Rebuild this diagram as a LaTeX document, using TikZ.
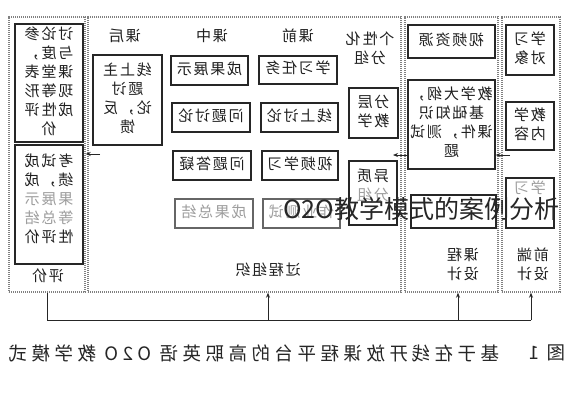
\documentclass[tikz,border=0pt]{standalone}
\usepackage{fontspec}
\setmainfont{Noto Sans CJK SC}
\newfontfamily\boxfont[LetterSpace=12]{Noto Sans CJK SC}
\newfontfamily\capfont[LetterSpace=24]{Noto Sans CJK SC}
\newfontfamily\wmfont{Noto Sans CJK SC}
\usetikzlibrary{arrows.meta}
\newcommand\mir[1]{\reflectbox{\begin{tabular}{@{}c@{}}#1\end{tabular}}}
\newcommand\gr[1]{\textcolor{black!38}{#1}}
\begin{document}
\begin{tikzpicture}[x=1pt,y=-1pt,
  panel/.style={draw=black!50, line width=1.4pt, dash pattern=on 1.2pt off 0.8pt, inner sep=0pt},
  bx/.style={draw=black!85, line width=1.3pt, inner sep=0pt, text=black!88,
    font=\boxfont\fontsize{15}{19}\selectfont},
  gbx/.style={bx, draw=black!60, text=black!38},
  lbl/.style={inner sep=0pt, text=black!88, font=\boxfont\fontsize{15}{19}\selectfont},
  conn/.style={draw=black!85, line width=1pt},
  arr/.style={conn, -{Stealth[length=5pt,width=4pt]}}]
\useasboundingbox[fill=white] (0,0) rectangle (568,400);
% panels
\node[panel, minimum width=76, minimum height=275] (pe) at (47,154.5) {};
\node[panel, minimum width=313, minimum height=275] (pp) at (244.5,154.5) {};
\node[panel, minimum width=93, minimum height=275] (pc) at (451.5,154.5) {};
\node[panel, minimum width=58, minimum height=275] (pf) at (531,154.5) {};
% evaluation
\node[bx, minimum width=68, minimum height=118] (e1) at (49,83)
  {\mir{讨论参\\与度，\\课堂表\\现等形\\成性评\\价}};
\node[bx, minimum width=68, minimum height=119] (e2) at (49,204.5) {};
\node[lbl] (e2t) at (49,201) {\mir{考试成\\绩，成\\\gr{果展示}\\\gr{等总结}\\性评价}};
\node[lbl] (pjl) at (48,278) {\mir{评价}};
% process headers
\node[lbl] (hkh) at (125,38) {\mir{课后}};
\node[lbl] (hkz) at (212,38) {\mir{课中}};
\node[lbl] (hkq) at (298,38) {\mir{课前}};
\node[lbl] (hgx) at (370,50) {\mir{个性化\\分组}};
% process boxes
\node[bx, minimum width=69, minimum height=90] (k1) at (127.5,100) {\mir{线上主\\题讨\\论，反\\馈}};
\node[bx, minimum width=77, minimum height=29] (c1) at (209.5,70.5) {\mir{成果展示}};
\node[bx, minimum width=78, minimum height=29] (c2) at (211,117.5) {\mir{问题讨论}};
\node[bx, minimum width=78, minimum height=29] (c3) at (212,165.5) {\mir{问题答疑}};
\node[gbx, minimum width=78, minimum height=29] (c4) at (214,213.5) {\mir{成果总结}};
\node[bx, minimum width=78, minimum height=28] (q1) at (298,70) {\mir{学习任务}};
\node[bx, minimum width=77, minimum height=29] (q2) at (299.5,117.5) {\mir{线上讨论}};
\node[bx, minimum width=76, minimum height=29] (q3) at (300,165.5) {\mir{视频学习}};
\node[gbx, minimum width=77, minimum height=29] (q4) at (301.5,213.5) {\mir{作业测试}};
\node[bx, minimum width=49, minimum height=50] (g1) at (373.5,113) {\mir{分层\\教学}};
\node[bx, minimum width=48, minimum height=64] (g2) at (373,193) {};
\node[lbl] (g2t) at (373,187) {\mir{异质\\\gr{分组}}};
\node[lbl] (gcl) at (268,272) {\mir{过程组织}};
% course design
\node[bx, minimum width=87, minimum height=33] (s1) at (451.5,41.5) {\mir{视频资源}};
\node[bx, minimum width=87, minimum height=89] (s2) at (451.5,124.5)
  {\mir{教学大纲，\\基础知识\\课件，测试\\题}};
\node[bx, minimum width=85, minimum height=33] (s3) at (453.5,211.5) {};
\node[lbl] (kcl) at (463,266) {\mir{课程\\设计}};
% front-end design
\node[bx, minimum width=48, minimum height=50] (f1) at (530,50) {\mir{学习\\对象}};
\node[bx, minimum width=48, minimum height=48] (f2) at (530,126) {\mir{教学\\内容}};
\node[bx, minimum width=48, minimum height=50] (f3) at (530,203) {};
\node[lbl] (f3t) at (530,190) {\mir{\gr{学习}}};
\node[lbl] (qdl) at (533,266) {\mir{前端\\设计}};
% small arrows between panels
\coordinate (a1e) at (393,155);
\draw[arr] (s2.west |- a1e) -- (a1e);
\coordinate (a2s) at (510,155);
\draw[arr] (a2s) -- (s2.east |- a2s);
\coordinate (a3s) at (100,154);
\draw[arr] (a3s) -- (pe.east |- a3s);
% bottom feedback line
\coordinate (bl) at (47,320);
\coordinate (br) at (531,320);
\coordinate (bm1) at (268,320);
\coordinate (bm2) at (458,320);
\draw[conn] (pe.south) -- (bl) -- (br);
\draw[arr] (bm1) -- (bm1 |- pp.south);
\draw[arr] (bm2) -- (bm2 |- pc.south);
\draw[arr] (br) -- (br |- pf.south);
% caption
\node[anchor=east, inner sep=0pt, text=black!85, font=\capfont\fontsize{18.5}{20}\selectfont] (cap) at (500,353)
  {\reflectbox{基于在线开放课程平台的高职英语 O2O 教学模式}};
\node[anchor=east, inner sep=0pt, text=black!85, font=\capfont\fontsize{18.5}{20}\selectfont] (fig) at (566,353)
  {\reflectbox{图\hspace{8pt}1}};
% watermark
\node[anchor=west, inner sep=0pt, text=black!85, font=\wmfont\fontsize{25}{27}\selectfont] (wm) at (283,209)
  {O2O教学模式的案例分析};
\end{tikzpicture}
\end{document}
